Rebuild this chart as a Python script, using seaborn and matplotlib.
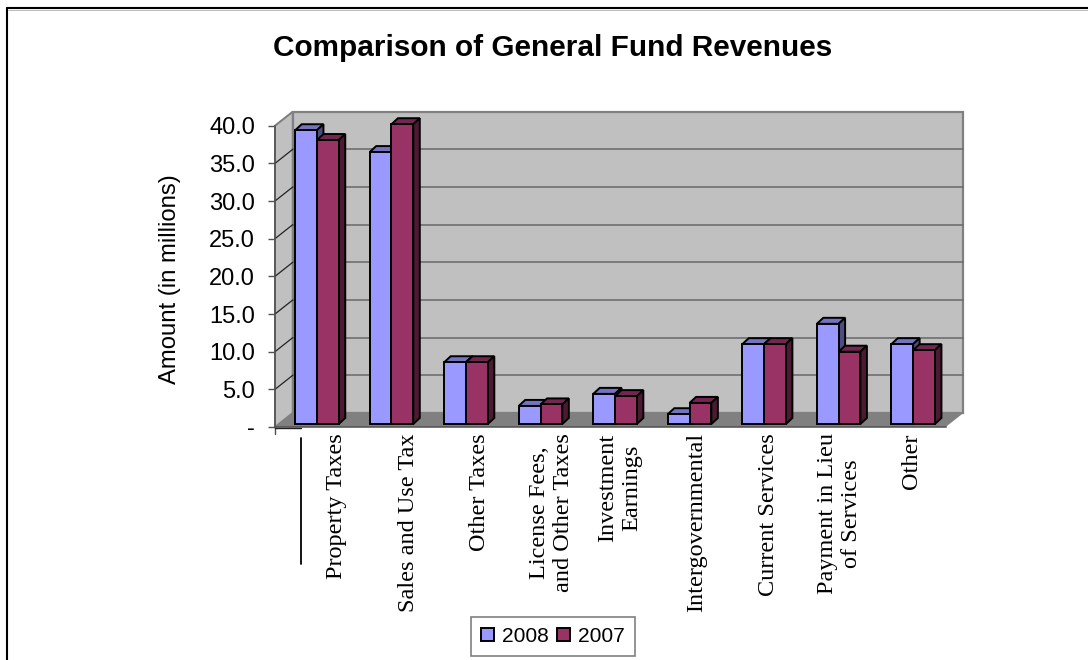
import matplotlib
matplotlib.use("Agg")
import matplotlib.pyplot as plt
from matplotlib.lines import Line2D
from matplotlib.patches import Patch, Polygon
import pandas as pd
import seaborn as sns

# Revenue categories and amounts in millions of dollars
categories = ["Property Taxes", "Sales and Use Tax", "Other Taxes",
              "License Fees,\nand Other Taxes", "Investment\nEarnings",
              "Intergovernmental", "Current Services",
              "Payment in Lieu\nof Services", "Other"]
revenue_2008 = [39.0, 36.1, 8.2, 2.4, 4.0, 1.3, 10.6, 13.3, 10.6]
revenue_2007 = [37.7, 39.8, 8.2, 2.6, 3.7, 2.8, 10.6, 9.6, 9.8]
years = ["2008", "2007"]
y_ticks = [0, 5, 10, 15, 20, 25, 30, 35, 40]
y_tick_labels = ["-", "5.0", "10.0", "15.0", "20.0", "25.0", "30.0", "35.0", "40.0"]

front = {"2008": "#9999FF", "2007": "#993366"}
top_face = {"2008": "#7373BF", "2007": "#732650"}
side_face = {"2008": "#4D4D80", "2007": "#4D1A33"}

W, H = 1088, 660
AX_L, AX_R, AX_T, AX_B = 275.0, 945.7, 125.7, 427.0

sns.set_style("white")
plt.rcParams["font.family"] = ["Liberation Sans", "DejaVu Sans"]

fig = plt.figure(figsize=(W / 100, H / 100), dpi=100, facecolor="white")
ax = fig.add_axes([AX_L / W, 1 - AX_B / H, (AX_R - AX_L) / W, (AX_B - AX_T) / H])

long = pd.DataFrame({
    "category": categories * 2,
    "amount": revenue_2008 + revenue_2007,
    "year": [years[0]] * 9 + [years[1]] * 9,
})
sns.barplot(data=long, x="category", y="amount", hue="year", hue_order=years,
            palette=front, saturation=1, width=0.585, gap=0, edgecolor="black",
            linewidth=1.4, legend=False, errorbar=None, ax=ax, zorder=4)
bars = list(ax.patches)
ax.set_xlim(-0.5, 8.5)
ax.set_ylim(0, 40)
ax.patch.set_visible(False)

# Scale factors for turning pixel offsets into data offsets
px_x = 9 / (AX_R - AX_L)
px_y = 40 / (AX_B - AX_T)
wall_dx, wall_dy = 17.7 * px_x, 14 * px_y
bar_dx, bar_dy = 6.5 * px_x, 6 * px_y
shift_x, shift_y = 4.7 * px_x, 3 * px_y


def face(points, color, z, edge=None, lw=0.0):
    ax.add_patch(Polygon(points, closed=True, facecolor=color, edgecolor=edge,
                         linewidth=lw, zorder=z, clip_on=False))


x0, x1 = -0.5, 8.5
# Chart box: back wall, side wall and floor
face([(x0 + wall_dx, wall_dy), (x1 + wall_dx, wall_dy),
      (x1 + wall_dx, 40 + wall_dy), (x0 + wall_dx, 40 + wall_dy)],
     "#C0C0C0", 0.5, "#808080", 1.6)
face([(x0, 0), (x0 + wall_dx, wall_dy), (x0 + wall_dx, 40 + wall_dy), (x0, 40)],
     "#C0C0C0", 0.6, "#808080", 1.4)
face([(x0, 0), (x1, 0), (x1 + wall_dx, wall_dy), (x0 + wall_dx, wall_dy)],
     "#808080", 0.7)
for tick in y_ticks[1:]:
    if tick < 40:
        ax.plot([x0 + wall_dx, x1 + wall_dx], [tick + wall_dy] * 2, color="#686868",
                lw=1.1, zorder=1, clip_on=False)
    ax.plot([x0, x0 + wall_dx], [tick, tick + wall_dy],
            color="#808080" if tick == 40 else "#222222",
            lw=0.9, zorder=1, clip_on=False)

# Extrude each bar and lift it to the middle of the floor
for index, bar in enumerate(bars):
    year = years[index // 9]
    base_z = 3 if year == "2008" else 5
    bar.set_zorder(base_z + 1)
    bar.set_clip_on(False)
    bar.set_x(bar.get_x() + shift_x)
    bar.set_y(shift_y)
    left, right = bar.get_x(), bar.get_x() + bar.get_width()
    bottom, top = shift_y, shift_y + bar.get_height()
    face([(left, top), (right, top), (right + bar_dx, top + bar_dy), (left + bar_dx, top + bar_dy)],
         top_face[year], base_z, "black", 1.4)
    face([(right, bottom), (right + bar_dx, bottom + bar_dy), (right + bar_dx, top + bar_dy), (right, top)],
         side_face[year], base_z, "black", 1.4)

# Axes, ticks and labels
sns.despine(ax=ax, top=True, right=True)
for side in ("left", "bottom"):
    ax.spines[side].set_color("#505050")
    ax.spines[side].set_linewidth(1.1)
    ax.spines[side].set_zorder(2)
ax.set_yticks(y_ticks, y_tick_labels, fontsize=17, color="black")
ax.tick_params(axis="y", left=True, length=5, width=1, color="#505050", pad=9.4)

label_px = [336.5, 408.5, 479.5, 551.5, 620, 696.5, 768.5, 839.5, 911.5]
ax.set_xticks([(p - AX_L) * px_x - 0.5 for p in label_px], categories, rotation=90,
              fontsize=17.5, family=["Liberation Serif"], color="black", ha="center", va="top",
              multialignment="center")
ax.tick_params(axis="x", bottom=False, length=0, pad=4.5)
ax.set_xlabel("")
ax.set_ylabel("Amount (in millions)", fontsize=17.2, color="black", va="center")
ax.yaxis.set_label_coords((170 - AX_L) / (AX_R - AX_L), (AX_B - 279) / (AX_B - AX_T))

fig.text(553 / W, 1 - 48 / H, "Comparison of General Fund Revenues", fontsize=21.4,
         fontweight="bold", color="black", ha="center", va="center")


def px_line(xs, ys, color="black", lw=1.0):
    fig.add_artist(Line2D([x / W for x in xs], [1 - y / H for y in ys], color=color, lw=lw))


# Outer border plus the stray tick marks under the axis origin
px_line([7, 7], [8, H], lw=1.5)
px_line([7, W], [8, 8], lw=1.5)
px_line([8, W], [9.6, 9.6], color="#B0B0B0", lw=0.6)
px_line([275, 275], [427, 434], color="#505050", lw=1)
px_line([275, 301], [428, 428], color="#202020", lw=1)
px_line([300.5, 300.5], [438, 564], lw=1.3)

handles = [Patch(facecolor=front[y], edgecolor="black", linewidth=1.4) for y in years]
legend = ax.legend(handles, years, ncol=2, loc="center", fontsize=15.1,
                   bbox_to_anchor=(553 / W, 1 - 636.5 / H), bbox_transform=fig.transFigure,
                   frameon=True, fancybox=False, framealpha=1, edgecolor="#808080",
                   labelcolor="black", handlelength=0.62, handleheight=0.62,
                   handletextpad=0.38, columnspacing=0.4, borderpad=0.48, borderaxespad=0)
legend.get_frame().set_linewidth(1.2)
legend.set_zorder(10)

fig.savefig("out.png", dpi=100)
